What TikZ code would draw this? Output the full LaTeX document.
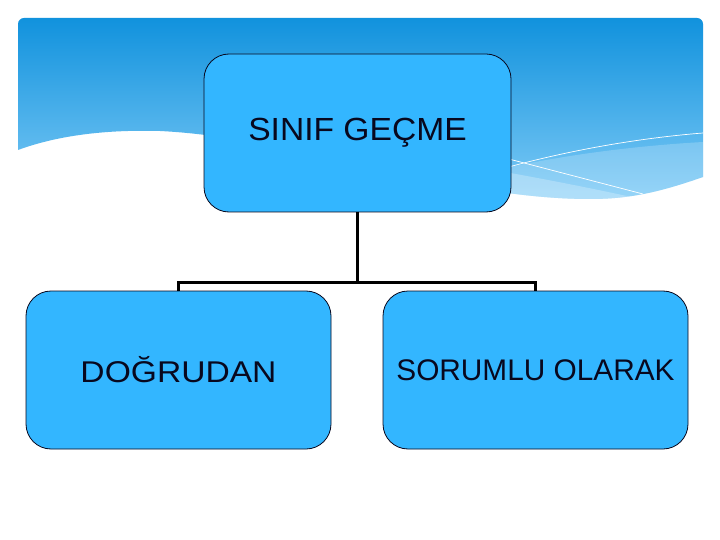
\documentclass[tikz,border=0pt]{standalone}
\usepackage{fontspec}
\setmainfont{Liberation Sans}
\definecolor{boxfill}{RGB}{51,182,255}
\definecolor{bantop}{RGB}{17,146,221}
\definecolor{banbot}{RGB}{125,202,246}
\definecolor{txt}{RGB}{8,8,30}
\tikzset{
  box/.style={draw=txt, line width=0.8pt, fill=boxfill, rounded corners=25pt,
    inner sep=0pt, outer sep=0pt, text=txt},
  conn/.style={draw=black, line width=3pt, line join=miter},
  wline/.style={draw=white, line width=0.7pt}
}
\begin{document}
\begin{tikzpicture}[x=1pt,y=-1pt]
\useasboundingbox (0,0) rectangle (720,540);
\fill[white] (0,0) rectangle (720,540);
% banner
\path[top color=bantop, bottom color=banbot]
  (18,150) [rounded corners=6pt] -- (18,18) -- (703,18) [sharp corners] -- (703,177)
  .. controls (660,192) and (630,199) .. (590,199)
  .. controls (450,199) and (300,138) .. (160,131)
  .. controls (90,129) and (45,140) .. (18,150) -- cycle;
\begin{scope}
  \clip (703,177)
  .. controls (660,192) and (630,199) .. (590,199)
  .. controls (450,199) and (300,138) .. (160,131) -- (160,18) -- (703,18) -- cycle;
  \fill[white, opacity=0.2] (505,168) .. controls (580,152) and (650,145) .. (703,142) -- (703,220) -- (505,220) -- cycle;
  \fill[white, opacity=0.25] (505,172) .. controls (560,182) and (600,190) .. (645,200) -- (505,220) -- cycle;
  \draw[wline] (505,168) .. controls (570,150) and (640,138) .. (703,133);
  \draw[wline] (505,158) -- (643,194);
\end{scope}
% nodes
\node[box, minimum width=307pt, minimum height=158pt] (top) at (357.5,133)
  {\fontsize{32}{38}\selectfont\scalebox{1.05}[1]{SINIF GEÇME}};
\node[box, minimum width=305pt, minimum height=158pt] (left) at (178.5,370)
  {\fontsize{30}{36}\selectfont\scalebox{1.12}[1]{DOĞRUDAN}};
\node[box, minimum width=305pt, minimum height=158pt] (right) at (535.5,370)
  {\fontsize{29.8}{36}\selectfont SORUMLU OLARAK};
% connectors
\coordinate (bus) at (0,282);
\draw[conn] (top.south) -- (top.south |- bus);
\draw[conn] (left.north) -- (left.north |- bus) -- (right.north |- bus) -- (right.north);
\end{tikzpicture}
\end{document}
